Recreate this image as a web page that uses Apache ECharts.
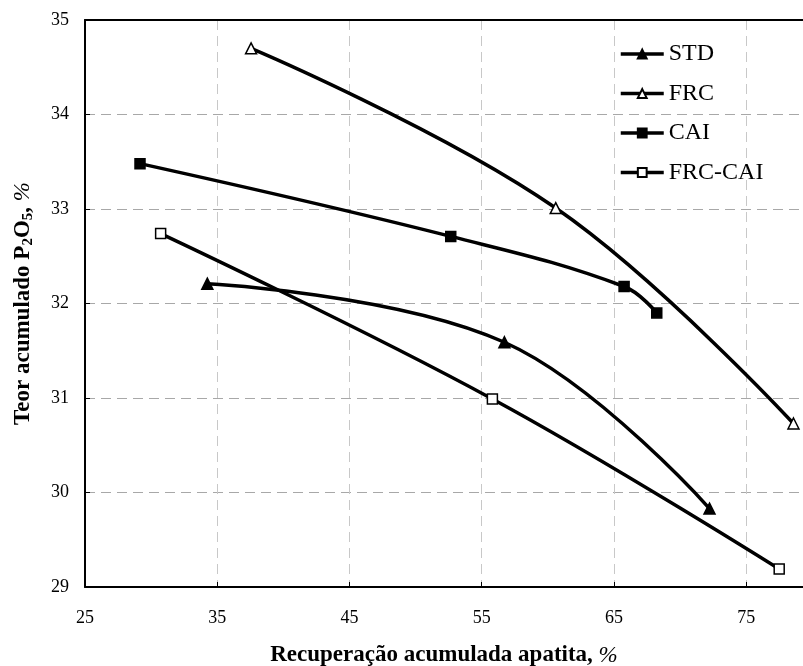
<!DOCTYPE html>
<html>
<head>
<meta charset="utf-8">
<script src="https://cdn.jsdelivr.net/npm/echarts@6/dist/echarts.min.js"></script>
<style>
  html, body { margin: 0; padding: 0; background: #fff; }
  #chart { width: 803px; height: 666px; }
</style>
</head>
<body>
<div id="chart"></div>
<script>
// Cumulative apatite recovery (%) vs cumulative P2O5 grade (%) for each flotation route
const seriesNames = ['STD', 'FRC', 'CAI', 'FRC-CAI'];

const stdRecovery = [34.25, 56.72, 72.23];
const stdGrade    = [32.21, 31.59, 29.83];

const frcRecovery = [37.56, 60.6, 78.58];
const frcGrade    = [34.70, 33.01, 30.73];

const caiRecovery = [29.16, 52.66, 65.77, 68.24];
const caiGrade    = [33.48, 32.71, 32.18, 31.90];

const frcCaiRecovery = [30.72, 55.81, 77.5];
const frcCaiGrade    = [32.74, 30.99, 29.19];

const xTicks = [25, 35, 45, 55, 65, 75];
const yTicks = [29, 30, 31, 32, 33, 34, 35];

const pairs = (xs, ys) => xs.map((x, i) => [x, ys[i]]);

const serif = '"Liberation Serif", "DejaVu Serif", serif';

const markerStyles = {
  'STD':     { symbol: 'triangle', size: 11, fill: '#000' },
  'FRC':     { symbol: 'triangle', size: 11, fill: '#fff' },
  'CAI':     { symbol: 'rect',     size: 10, fill: '#000' },
  'FRC-CAI': { symbol: 'rect',     size: 10, fill: '#fff' }
};

const seriesData = {
  'STD': pairs(stdRecovery, stdGrade),
  'FRC': pairs(frcRecovery, frcGrade),
  'CAI': pairs(caiRecovery, caiGrade),
  'FRC-CAI': pairs(frcCaiRecovery, frcCaiGrade)
};

// the plot area runs past the right edge of the page, so the x range ends mid-way
const xMax = 79.3;

const chart = echarts.init(document.getElementById('chart'), null, { renderer: 'canvas' });

chart.setOption({
  animation: false,
  backgroundColor: '#fff',
  grid: { left: 85, top: 20, bottom: 79, right: 0, show: false, outerBoundsMode: 'none', containLabel: false },
  legend: {
    orient: 'vertical',
    left: 619, top: 42, padding: 0,
    itemWidth: 43, itemHeight: 11, itemGap: 15.5,
    data: seriesNames,
    lineStyle: { width: 3.5 },
    textStyle: { fontFamily: serif, fontSize: 24, color: '#000', lineHeight: 24 }
  },
  xAxis: [{
    type: 'value',
    min: xTicks[0], max: xMax, interval: 10,
    name: '{b|Recuperação acumulada apatita, }{i|%}',
    nameLocation: 'middle', nameGap: 57,
    nameTextStyle: {
      rich: {
        b: { fontFamily: serif, fontSize: 23, fontWeight: 'bold', color: '#000' },
        i: { fontFamily: serif, fontSize: 23, fontStyle: 'italic', color: '#000' }
      }
    },
    axisLine: { onZero: false, lineStyle: { color: '#000', width: 2 } },
    axisTick: { inside: true, length: 5, lineStyle: { color: '#000', width: 1 } },
    axisLabel: { fontFamily: serif, fontSize: 18, color: '#000', margin: 22, showMaxLabel: false },
    splitLine: { show: true, lineStyle: { color: '#c8c8c8', type: [10, 6], width: 1 } }
  }, {
    // top border of the plot area
    type: 'value', position: 'top',
    min: xTicks[0], max: xMax, interval: 10,
    axisLine: { onZero: false, lineStyle: { color: '#000', width: 2 } },
    axisTick: { show: false }, axisLabel: { show: false }, splitLine: { show: false }
  }],
  yAxis: {
    type: 'value',
    min: yTicks[0], max: yTicks[yTicks.length - 1], interval: 1,
    name: '{b|Teor acumulado P}{s|2}{b|O}{s|5}{b|, }{i|%}',
    nameLocation: 'middle', nameRotate: 90, nameGap: 49,
    nameTextStyle: {
      rich: {
        b: { fontFamily: serif, fontSize: 23, fontWeight: 'bold', color: '#000', lineHeight: 26, verticalAlign: 'middle' },
        s: { fontFamily: serif, fontSize: 15, fontWeight: 'bold', color: '#000', lineHeight: 11, verticalAlign: 'bottom' },
        i: { fontFamily: serif, fontSize: 23, fontStyle: 'italic', color: '#000', lineHeight: 26, verticalAlign: 'middle' }
      }
    },
    axisLine: { onZero: false, lineStyle: { color: '#000', width: 2 } },
    axisTick: { inside: true, length: 5, lineStyle: { color: '#000', width: 1 } },
    axisLabel: { fontFamily: serif, fontSize: 18, color: '#000', margin: 16 },
    splitLine: { show: true, lineStyle: { color: '#a8a8a8', type: [10, 6], width: 1 } }
  },
  series: seriesNames.map(name => ({
    name: name,
    type: 'line',
    xAxisIndex: 0,
    data: seriesData[name],
    smooth: 0.4,
    symbol: markerStyles[name].symbol,
    symbolSize: markerStyles[name].size,
    showAllSymbol: true,
    lineStyle: { color: '#000', width: 3.5 },
    itemStyle: { color: markerStyles[name].fill, borderColor: '#000', borderWidth: 1.5 },
    emphasis: { disabled: true },
    z: 3
  }))
});
</script>
</body>
</html>
